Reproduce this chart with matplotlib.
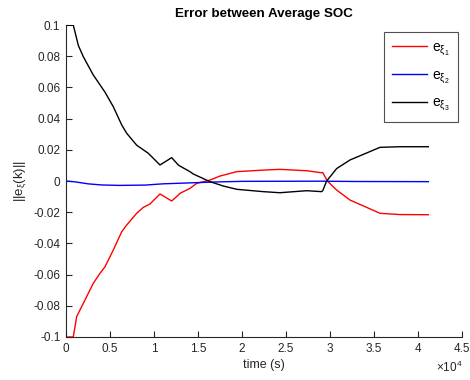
import numpy as np
import matplotlib
matplotlib.use("Agg")
import matplotlib.pyplot as plt
from matplotlib.ticker import FuncFormatter

plt.rcParams["font.family"] = ["Liberation Sans", "DejaVu Sans"]
plt.rcParams["mathtext.fontset"] = "custom"
plt.rcParams["mathtext.rm"] = "Liberation Sans"
plt.rcParams["mathtext.it"] = "Liberation Sans:italic"
plt.rcParams["mathtext.default"] = "regular"

# error traces, time in seconds
t_e1 = [0, 830, 1210, 1970, 3100, 3860, 4430, 5380, 6330, 6900, 8030, 8780, 9550,
        10680, 12010, 12760, 12950, 14090, 14850, 16360, 17500, 19400, 22400,
        24300, 27350, 29050, 29170, 29700, 30760, 32270, 34170, 35680, 37950, 41170]
e1 = [-0.1, -0.1, -0.087, -0.0784, -0.0656, -0.0592, -0.055, -0.0442, -0.0325, -0.0282,
      -0.0207, -0.0169, -0.0147, -0.0083, -0.0128, -0.009, -0.0079, -0.0047, -0.0015,
      0.0006, 0.0032, 0.006, 0.007, 0.0075, 0.0066, 0.0053, 0.0055, 0.0, -0.0058,
      -0.0122, -0.0169, -0.0207, -0.0215, -0.0216]

t_e2 = [0, 1000, 2500, 4000, 6000, 9000, 11000, 14000, 17000, 20000, 29000, 33000, 41170]
e2 = [0.0, -0.0005, -0.0018, -0.0025, -0.0028, -0.0026, -0.0018, -0.0012, -0.0006,
      -0.0002, -0.0001, -0.0003, -0.0004]

t_e3 = [0, 830, 1400, 1970, 3100, 4430, 5380, 6330, 6900, 8030, 9350, 10680, 12010,
        12760, 12950, 14090, 14470, 16360, 17880, 19400, 22400, 24300, 27350, 29050,
        29170, 29620, 30760, 32270, 34170, 35680, 37950, 41170]
e3 = [0.1, 0.1, 0.087, 0.0797, 0.068, 0.057, 0.0476, 0.036, 0.0306, 0.023, 0.0178,
      0.0103, 0.015, 0.0103, 0.0096, 0.006, 0.0045, -0.0004, -0.0032, -0.0053, -0.0068,
      -0.0075, -0.0062, -0.0068, -0.0062, 0.0, 0.008, 0.0135, 0.018, 0.0216, 0.022, 0.022]

x_ticks = [0, 5000, 10000, 15000, 20000, 25000, 30000, 35000, 40000, 45000]
y_ticks = [-0.1, -0.08, -0.06, -0.04, -0.02, 0, 0.02, 0.04, 0.06, 0.08, 0.1]

fig = plt.figure(figsize=(4.7, 3.8), dpi=100)
ax = fig.add_axes([0.1404, 0.1132, 0.8426, 0.8208])

ax.plot(t_e1, e1, color="#ff0000", lw=1.0, label=r"$e_{\xi_1}$")
ax.plot(t_e2, e2, color="#0000ff", lw=1.0, label=r"$e_{\xi_2}$")
ax.plot(t_e3, e3, color="#000000", lw=1.0, label=r"$e_{\xi_3}$")

ax.set_xlim(0, 45000)
ax.set_ylim(-0.1, 0.1)
ax.set_xticks(x_ticks)
ax.set_yticks(y_ticks)
ax.xaxis.set_major_formatter(FuncFormatter(lambda v, p: f"{v / 1e4:g}"))
ax.yaxis.set_major_formatter(FuncFormatter(lambda v, p: f"{v:g}"))

axc = "#262626"
for s in ["top", "right"]:
    ax.spines[s].set_visible(False)
for s in ["left", "bottom"]:
    ax.spines[s].set_color(axc)
    ax.spines[s].set_linewidth(0.8)
ax.tick_params(direction="in", length=4, width=0.8, color=axc, labelcolor=axc,
               labelsize=8.5, pad=4)

ax.set_title("Error between Average SOC", fontsize=9.6, fontweight="bold", pad=6)
ax.set_xlabel("time (s)", fontsize=9, color=axc, labelpad=3)
ax.set_ylabel(r"$||e_{\xi}(k)||$", fontsize=9.5, color=axc, labelpad=4)
ax.text(1.0, -0.098, r"$\times10^{4}$", transform=ax.transAxes, ha="right", va="center",
        fontsize=8.5, color=axc)

leg = ax.legend(loc="upper right", bbox_to_anchor=(0.99, 0.978), borderaxespad=0,
                fontsize=10, frameon=True, fancybox=False, handlelength=2.5,
                borderpad=0.6, labelspacing=0.75, handletextpad=0.35)
leg.get_frame().set_edgecolor(axc)
leg.get_frame().set_linewidth(0.8)

fig.savefig("out.png", dpi=100, facecolor="white")
